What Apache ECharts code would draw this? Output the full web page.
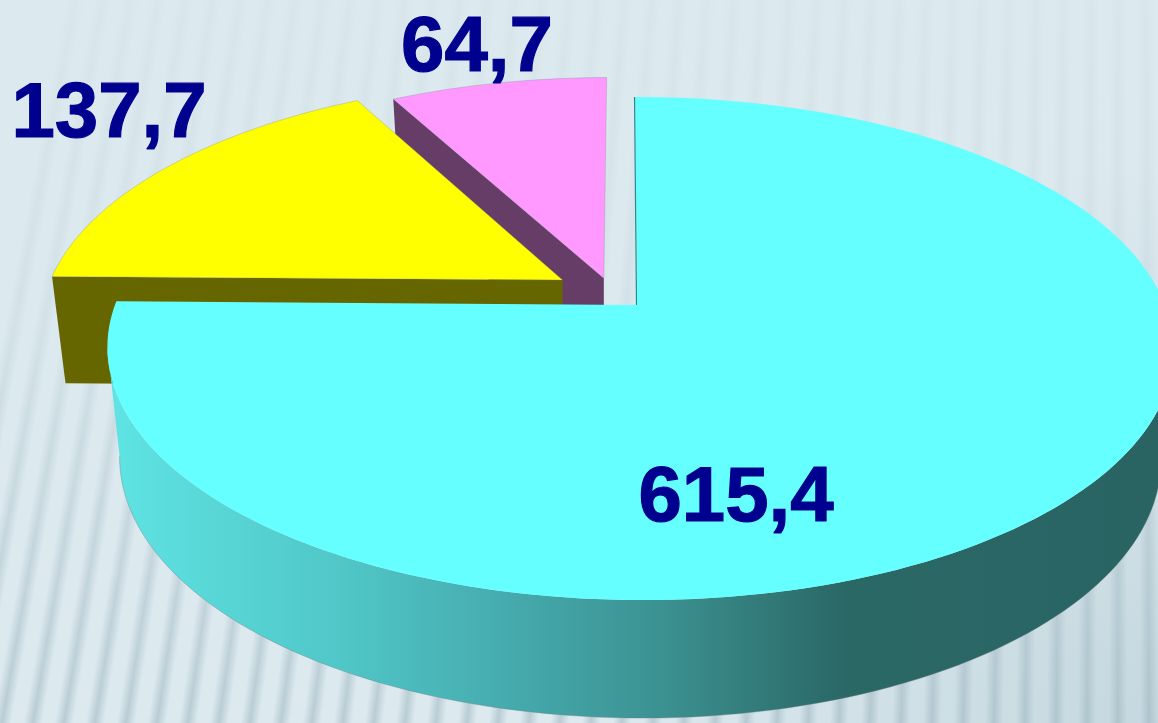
<!DOCTYPE html>
<html>
<head>
<meta charset="utf-8">
<style>html,body{margin:0;padding:0;background:#dce9ef;overflow:hidden}#c{width:1158px;height:723px}</style>
<script src="https://cdn.jsdelivr.net/npm/echarts@6/dist/echarts.min.js"></script>
</head>
<body>
<div id="c"></div>
<script>
// ---- chart values ----
var sliceValues = [615.4, 137.7, 64.7];

// ---- styles and layout ----
var topColors  = ['#66ffff', '#ffff00', '#ff99ff'];
var wallColors = [null, '#666600', '#663d66'];
var sliceDepthOrder = [3, 2, 1];
var explodeU = [0, -0.144, -0.064];
var explodeV = [0, 0.104, 0.112];
var labelX = [736, 109, 477];
var labelBaseY = [522, 138, 72];
var labelFont = 'bold 78px "Liberation Sans", Arial, sans-serif';
var labelColor = '#00008f';

var apexX = 637, apexY = 305, radX = 525, radY = 244;
var perspV = 0.173, perspU = -0.0056, shear = -2.3;
var depthBase = 108, depthFront = 10, wallShrink = 0.977, wallShift = 0;

function toScreen(u, v) {
  var w = 1 + perspU * u + perspV * v;
  return [apexX + (radX * u + shear * v) / w, apexY - radY * v / w];
}
function toBase(p, v) {
  return [apexX + (p[0] - apexX) * wallShrink + wallShift, p[1] + depthBase - depthFront * v];
}
function rim(startDeg, endDeg, du, dv) {
  var pts = [], n = Math.max(2, Math.ceil(Math.abs(endDeg - startDeg) / 1.5));
  for (var i = 0; i <= n; i++) {
    var a = (startDeg + (endDeg - startDeg) * i / n) * Math.PI / 180;
    pts.push({ u: Math.sin(a) + du, v: Math.cos(a) + dv });
  }
  return pts;
}

var total = sliceValues.reduce(function (a, b) { return a + b; }, 0);

function renderSlice(params, api) {
  var i = params.dataIndex;
  var value = api.value(0);
  var before = 0;
  for (var k = 0; k < i; k++) before += sliceValues[k];
  var a0 = before / total * 360, a1 = (before + value) / total * 360;
  var du = explodeU[i], dv = explodeV[i];
  var outline = rim(a0, a1, du, dv);
  var topPts = [toScreen(du, dv)].concat(outline.map(function (q) { return toScreen(q.u, q.v); }));
  var base = sliceDepthOrder[i] * 10;
  var children = [];

  if (i === 0) {
    // curved outer wall, between the two silhouette points of the rim
    var minI = 0, maxI = 0;
    outline.forEach(function (q, j) {
      var p = toScreen(q.u, q.v);
      if (p[0] < toScreen(outline[minI].u, outline[minI].v)[0]) minI = j;
      if (p[0] > toScreen(outline[maxI].u, outline[maxI].v)[0]) maxI = j;
    });
    var seg = outline.slice(maxI, minI + 1);
    var upper = seg.map(function (q) { return toScreen(q.u, q.v); });
    var lower = seg.map(function (q) { return toBase(toScreen(q.u, q.v), q.v); }).reverse();
    children.push({
      type: 'polygon', z2: base,
      shape: { points: upper.concat(lower) },
      style: {
        fill: new echarts.graphic.LinearGradient(115, 0, 1158, 0, [
          { offset: 0, color: '#5fe3e3' },
          { offset: 0.22, color: '#50c6c7' },
          { offset: 0.38, color: '#45aaad' },
          { offset: 0.52, color: '#3c9292' },
          { offset: 0.7, color: '#2a6866' },
          { offset: 1, color: '#296463' }
        ], true)
      }
    });
    children.push({
      type: 'polyline', z2: base,
      shape: { points: lower },
      style: { fill: null, stroke: 'rgba(110,125,130,.55)', lineWidth: 0.7 }
    });
  } else {
    // flat cut face towards the viewer
    var edge = outline[0];
    var apexTop = toScreen(du, dv), rimTop = toScreen(edge.u, edge.v);
    children.push({
      type: 'polygon', z2: base,
      shape: { points: [apexTop, rimTop, toBase(rimTop, edge.v), [apexTop[0], toBase(apexTop, dv)[1]]] },
      style: { fill: wallColors[i] }
    });
  }
  children.push({
    type: 'polygon', z2: base + 1,
    shape: { points: topPts },
    style: i === 0
      ? { fill: topColors[i] }
      : { fill: topColors[i], stroke: 'rgba(110,125,130,.45)', lineWidth: 0.6 }
  });
  if (i === 0) {
    // the start cut of the big slice is seen almost edge-on
    children.push({
      type: 'line', z2: base + 2,
      shape: { x1: toScreen(0, 0)[0] - 0.5, y1: apexY, x2: toScreen(0, 1)[0] - 0.5, y2: toScreen(0, 1)[1] },
      style: { stroke: '#2a8a8c', lineWidth: 1.2 }
    });
  }
  children.push({
    type: 'text', z2: 100,
    style: {
      text: String(value).replace('.', ','),
      x: labelX[i], y: labelBaseY[i], font: labelFont, fill: labelColor,
      stroke: labelColor, lineWidth: 1.2,
      align: 'center', verticalAlign: 'bottom', lineHeight: 80, padding: [0, 0, -17, 0]
    }
  });
  return { type: 'group', children: children };
}

// ---- backdrop: soft ribs that fan out, strongest towards the bottom ----
function backdrop() {
  var els = [{
    type: 'rect', z: -10, silent: true,
    shape: { x: 0, y: 0, width: 1158, height: 723 },
    style: { fill: '#dce9ef' }
  }];
  for (var x = -60; x < 1240; x += 31) {
    var xb = x;
    var xt = xb + (1120 - xb) * 0.115;
    var hw = 9;
    var dx = xb - xt, len = Math.sqrt(dx * dx + 723 * 723);
    var nx = 723 / len, ny = -dx / len;
    var mx = (xb + xt) / 2, my = 361;
    els.push({
      type: 'polygon', z: -9, silent: true,
      shape: { points: [[xt - hw, 0], [xt + hw, 0], [xb + hw, 723], [xb - hw, 723]] },
      style: {
        fill: new echarts.graphic.LinearGradient(mx - nx * hw, my - ny * hw, mx + nx * hw, my + ny * hw, [
          { offset: 0, color: 'rgba(150,175,185,0)' },
          { offset: 0.5, color: 'rgba(150,175,185,.5)' },
          { offset: 1, color: 'rgba(150,175,185,0)' }
        ], true)
      }
    });
  }
  els.push({
    type: 'rect', z: -8, silent: true,
    shape: { x: 0, y: 0, width: 1158, height: 723 },
    style: {
      fill: new echarts.graphic.LinearGradient(0, 0, 0, 723, [
        { offset: 0, color: 'rgba(220,233,239,.9)' },
        { offset: 0.45, color: 'rgba(220,233,239,.72)' },
        { offset: 1, color: 'rgba(220,233,239,0)' }
      ], true)
    }
  });
  els.push({
    type: 'rect', z: -7, silent: true,
    shape: { x: 0, y: 0, width: 1158, height: 723 },
    style: {
      fill: new echarts.graphic.RadialGradient(1158, 723, 560, [
        { offset: 0, color: 'rgba(150,180,190,.32)' },
        { offset: 1, color: 'rgba(150,180,190,0)' }
      ], true)
    }
  });
  return els;
}

var chart = echarts.init(document.getElementById('c'), null, { renderer: 'canvas', width: 1158, height: 723 });
chart.setOption({
  animation: false,
  graphic: { elements: backdrop() },
  series: [{
    type: 'custom',
    coordinateSystem: 'none',
    silent: true,
    clip: false,
    renderItem: renderSlice,
    data: sliceValues.map(function (v) { return [v]; })
  }]
});
</script>
</body>
</html>
